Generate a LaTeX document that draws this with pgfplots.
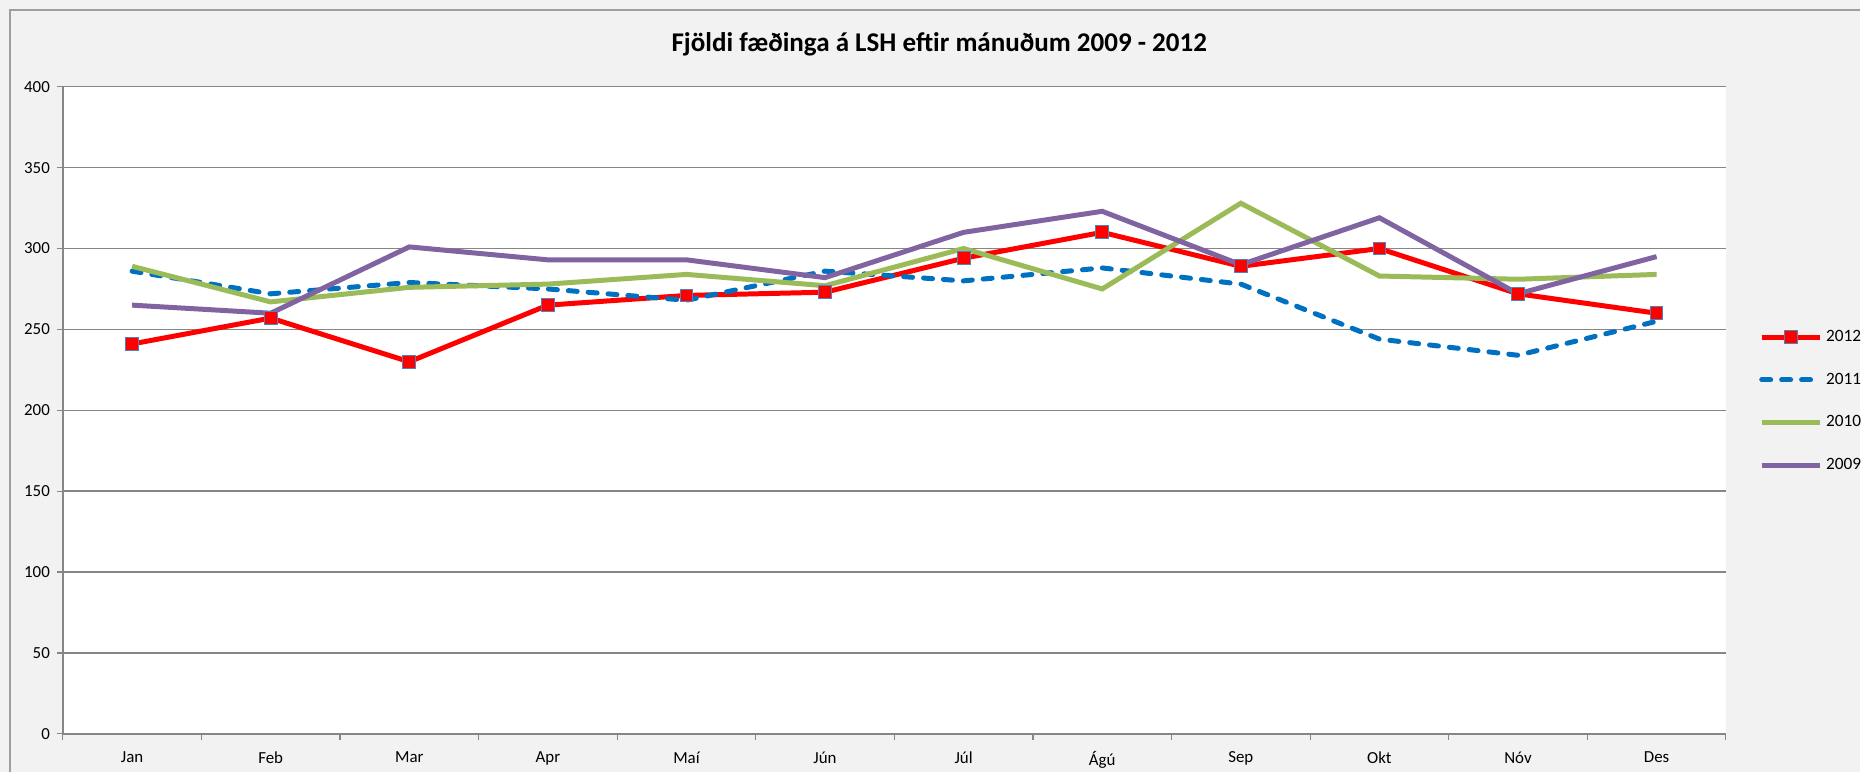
\documentclass[border=0pt]{standalone}
\usepackage{fontspec}
\setmainfont{Carlito}
\usepackage{pgfplots}
\pgfplotsset{compat=1.18}
\definecolor{c2012}{RGB}{255,0,0}
\definecolor{c2011}{RGB}{0,112,192}
\definecolor{c2010}{RGB}{155,187,89}
\definecolor{c2009}{RGB}{128,100,162}
\definecolor{bg}{RGB}{242,242,242}
\definecolor{gridc}{RGB}{134,134,134}
\definecolor{mkedge}{RGB}{79,129,189}
\begin{document}
\begin{tikzpicture}
\fill[bg] (0,0) rectangle (932.5bp,387bp);
\draw[gridc!80, line width=0.8bp] (5bp,0) -- (5bp,382bp) -- (932.5bp,382bp);
\node[font=\bfseries\fontsize{13.6}{16}\selectfont] at (471bp,365bp) {Fjöldi fæðinga á LSH eftir mánuðum 2009 - 2012};
\begin{axis}[
  at={(31.5bp,19bp)}, anchor=south west,
  scale only axis, width=834bp, height=324.5bp,
  xmin=-0.5, xmax=11.5, ymin=0, ymax=400,
  axis background/.style={fill=white},
  axis x line*=bottom, axis y line*=left,
  axis line style={gridc, line width=0.7bp, -},
  xtick={-0.5,0.5,...,11.5}, xticklabels={},
  extra x ticks={0,1,...,11},
  extra x tick labels={Jan,Feb,Mar,Apr,Maí,Jún,Júl,Ágú,Sep,Okt,Nóv,Des},
  extra x tick style={major tick length=0pt, grid=none,
    tick label style={yshift=-5.5bp}},
  ytick={0,50,...,400},
  ymajorgrids,
  major grid style={gridc, line width=0.7bp},
  tick style={gridc, line width=0.6bp},
  tick align=outside, major tick length=3bp,
  tick label style={font=\fontsize{8.5}{10}\selectfont},
  /pgf/number format/assume math mode=true,
  legend style={at={(1.0198,0.514)}, anchor=west, draw=none, fill=none,
    inner sep=0pt, row sep=10.3bp, font=\fontsize{8.7}{10}\selectfont,
    cells={anchor=west}},
  legend image code/.code={\draw[mark repeat=2,mark phase=2] plot coordinates {(0bp,0bp)(14.5bp,0bp)(29bp,0bp)};},
  clip=false,
]
\addplot[c2012, line width=2.5bp, mark=square*, mark size=3.2bp,
  mark options={solid, fill=c2012, draw=mkedge, line width=0.5bp}]
  coordinates {(0,241)(1,257)(2,230)(3,265)(4,271)(5,273)(6,294)(7,310)(8,289)(9,300)(10,272)(11,260)};
\addlegendentry{2012}
\addplot[c2011, line width=2.5bp, line cap=round, dash pattern=on 4.5bp off 5.5bp]
  coordinates {(0,286)(1,272)(2,279)(3,275)(4,268)(5,286)(6,280)(7,288)(8,278)(9,244)(10,234)(11,255)};
\addlegendentry{2011}
\addplot[c2010, line width=2.5bp]
  coordinates {(0,289)(1,267)(2,276)(3,278)(4,284)(5,277)(6,300)(7,275)(8,328)(9,283)(10,281)(11,284)};
\addlegendentry{2010}
\addplot[c2009, line width=2.5bp]
  coordinates {(0,265)(1,260)(2,301)(3,293)(4,293)(5,282)(6,310)(7,323)(8,290)(9,319)(10,272)(11,295)};
\addlegendentry{2009}
\end{axis}
\end{tikzpicture}
\end{document}
